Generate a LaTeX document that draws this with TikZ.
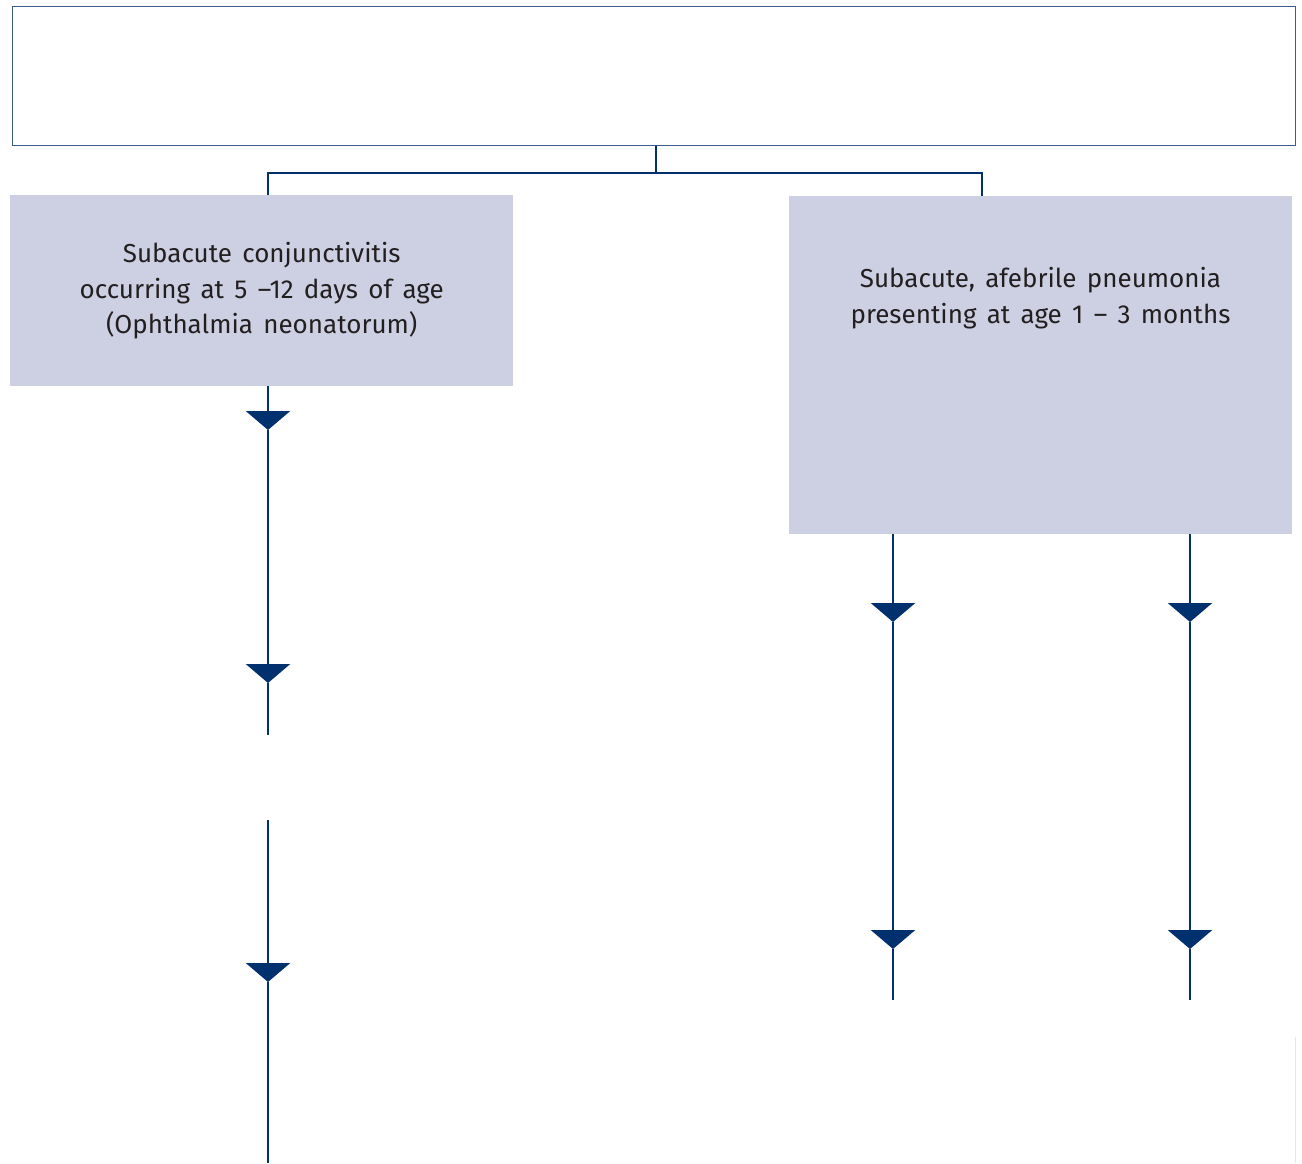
\documentclass[tikz,border=0pt]{standalone}
\usepackage{fontspec}
\setmainfont{Fira Sans}[WordSpace=1.5]
\usetikzlibrary{arrows.meta}
\definecolor{navy}{HTML}{00306E}
\definecolor{boxgray}{HTML}{CDD0E2}
\definecolor{frameblue}{HTML}{3D5C8E}
\definecolor{ink}{HTML}{231F20}
\definecolor{faint}{HTML}{E6E6E6}
\begin{document}
\begin{tikzpicture}[x=1pt,y=-1pt,
  link/.style={draw=navy, line width=2.9pt, line join=miter},
  tip/.style={-{Triangle[width=44pt,length=19pt]}},
  greybox/.style={fill=boxgray, inner sep=0pt, anchor=north west},
  label/.style={align=center, text=ink, font=\fontsize{26}{35.5}\selectfont}]
\useasboundingbox (0,0) rectangle (1302,1163);
\fill[white] (0,0) rectangle (1302,1163);

% header frame
\node[draw=frameblue, line width=1.3pt, minimum width=1283pt, minimum height=139pt,
      inner sep=0pt, anchor=north west] (top) at (12,6) {};

% first-level boxes
\node[greybox, minimum width=503pt, minimum height=191pt, label] (conj) at (10,195)
  {Subacute conjunctivitis\\occurring at 5 –12 days of age\\(Ophthalmia neonatorum)};
\node[greybox, minimum width=503pt, minimum height=338pt] (pneu) at (789,196) {};
\node[label] (pneutext) at (1040.5,298)
  {Subacute, afebrile pneumonia\\presenting at age 1 – 3 months};

% branching from the header
\coordinate (split) at (656,173);
\coordinate (bl) at (268,173);
\coordinate (br) at (982,173);
\draw[link] (top.south -| split) -- (split);
\draw[link] (conj.north -| bl) -- (bl) -- (br) -- (pneu.north -| br);

% left column
\coordinate (l1) at (268,430);
\coordinate (l2) at (268,683);
\coordinate (l3) at (268,735);
\coordinate (l4) at (268,820);
\coordinate (l5) at (268,982);
\coordinate (l6) at (268,1163);
\draw[link,tip] (conj.south -| l1) -- (l1);
\draw[link,tip] (l1) -- (l2);
\draw[link] (l2) -- (l3);
\draw[link,tip] (l4) -- (l5);
\draw[link] (l5) -- (l6);

% right columns
\coordinate (a1) at (893,622);
\coordinate (a2) at (893,949);
\coordinate (a3) at (893,1000);
\coordinate (b1) at (1190,622);
\coordinate (b2) at (1190,949);
\coordinate (b3) at (1190,1000);
\draw[link,tip] (pneu.south -| a1) -- (a1);
\draw[link,tip] (a1) -- (a2);
\draw[link] (a2) -- (a3);
\draw[link,tip] (pneu.south -| b1) -- (b1);
\draw[link,tip] (b1) -- (b2);
\draw[link] (b2) -- (b3);

% faint edge at lower right
\coordinate (e1) at (1295,1037);
\coordinate (e2) at (1295,1163);
\draw[faint, line width=1pt] (e1) -- (e2);
\end{tikzpicture}
\end{document}
